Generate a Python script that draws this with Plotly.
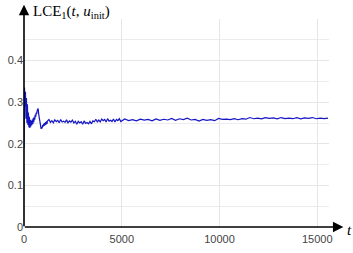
import plotly.graph_objects as go

# --- data ---
t_early = [0, 25, 50, 75, 100, 125, 150, 175, 200, 225, 250, 275, 300, 325, 350, 375,
           400, 425, 450, 475, 500, 525, 550, 575, 600, 625, 650, 675, 700, 725, 750,
           775, 800, 825, 850, 875, 900, 925, 950, 975, 1000, 1025, 1050, 1075, 1100,
           1125, 1150, 1175, 1200]
lce_early = [0.19, 0.335, 0.29, 0.325, 0.26, 0.31, 0.25, 0.295, 0.245, 0.275, 0.24, 0.265,
             0.238, 0.258, 0.242, 0.255, 0.245, 0.258, 0.248, 0.262, 0.252, 0.265, 0.258,
             0.27, 0.265, 0.275, 0.272, 0.28, 0.283, 0.285, 0.272, 0.262, 0.252, 0.245,
             0.238, 0.236, 0.24, 0.237, 0.245, 0.241, 0.248, 0.243, 0.25, 0.245, 0.252,
             0.246, 0.254, 0.248, 0.255]

t_mid = [1275, 1350, 1425, 1500, 1575, 1650, 1725, 1800, 1875, 1950, 2025, 2100, 2175,
         2250, 2325, 2400, 2475, 2550, 2625, 2700, 2775, 2850, 2925, 3000, 3075, 3150,
         3225, 3300, 3375, 3450, 3525, 3600, 3675, 3750, 3825, 3900, 3975, 4050, 4125,
         4200, 4275, 4350, 4425, 4500, 4575, 4650, 4725, 4800, 4875, 4950]
lce_mid = [0.2585, 0.2515, 0.2555, 0.2505, 0.2575, 0.2535, 0.2565, 0.2505, 0.2585, 0.2525,
           0.2545, 0.2515, 0.2575, 0.2505, 0.255, 0.252, 0.257, 0.250, 0.254, 0.247,
           0.254, 0.250, 0.253, 0.247, 0.255, 0.249, 0.251, 0.248, 0.254, 0.248,
           0.255, 0.253, 0.259, 0.2525, 0.257, 0.2525, 0.2595, 0.2555, 0.2585, 0.2525,
           0.2605, 0.2545, 0.2565, 0.2535, 0.2595, 0.2525, 0.2585, 0.2555, 0.2605, 0.2535]

t_late = [5150, 5350, 5550, 5750, 5950, 6150, 6350, 6550, 6750, 6950, 7150, 7350, 7550,
          7750, 7950, 8150, 8350, 8550, 8750, 8950, 9150, 9350, 9550, 9750, 9950, 10150,
          10350, 10550, 10750, 10950, 11150, 11350, 11550, 11750, 11950, 12150, 12350,
          12550, 12750, 12950, 13150, 13350, 13550, 13750, 13950, 14150, 14350, 14550,
          14750, 14950, 15150, 15350, 15550]
lce_late = [0.2599, 0.2557, 0.2581, 0.2551, 0.2593, 0.2569, 0.2587, 0.2551, 0.2599, 0.2563,
            0.2590, 0.2572, 0.2608, 0.2566, 0.2602, 0.2584, 0.2614, 0.2572, 0.2586, 0.2546,
            0.2588, 0.2564, 0.2582, 0.2556, 0.2611, 0.2587, 0.2595, 0.2583, 0.2607, 0.2579,
            0.2603, 0.2591, 0.2631, 0.2603, 0.2619, 0.2599, 0.2627, 0.2611, 0.2623, 0.2599,
            0.2631, 0.2607, 0.2615, 0.2603, 0.2627, 0.2599, 0.2623, 0.2611, 0.2631, 0.2603,
            0.2619, 0.2607, 0.2615]

x_ticks = [0, 5000, 10000, 15000]
y_ticks = [0, 0.1, 0.2, 0.3, 0.4]
y_tick_text = ["0", "0.1", "0.2", "0.3", "0.4"]
y_minor = [0.05, 0.15, 0.25, 0.35, 0.45]
x_range = [0, 15600]
y_range = [0, 0.5]

t_all = t_early + t_mid + t_late
lce_all = lce_early + lce_mid + lce_late

fig = go.Figure()
fig.add_trace(go.Scatter(x=t_all, y=lce_all, mode="lines",
                         line=dict(color="#1616c4", width=1.2), showlegend=False,
                         hoverinfo="skip"))

tickfont = dict(family="Liberation Sans, Arial, sans-serif", size=11, color="#444")
fig.update_layout(
    width=353, height=253,
    margin=dict(l=24, r=24, t=19, b=26),
    paper_bgcolor="white", plot_bgcolor="white",
    xaxis=dict(range=x_range, tickvals=x_ticks, ticktext=[str(v) for v in x_ticks],
               showgrid=True, gridcolor="#e6e6e6", gridwidth=1, zeroline=False,
               showline=False, ticks="", tickfont=tickfont, automargin=False,
               ticklabelstandoff=4),
    yaxis=dict(range=y_range, tickvals=y_ticks, ticktext=y_tick_text,
               showgrid=True, gridcolor="#e6e6e6", gridwidth=1, zeroline=False,
               showline=False, ticks="", tickfont=tickfont, automargin=False,
               minor=dict(tickvals=y_minor, showgrid=True, gridcolor="#ececec", gridwidth=1)),
)

# axis arrows
fig.add_annotation(x=1.047, y=0, xref="paper", yref="paper", ax=-320, ay=0,
                   text="", showarrow=True, arrowhead=2, arrowsize=1.3, arrowwidth=1.6,
                   arrowcolor="black")
fig.add_annotation(x=0, y=1.068, xref="paper", yref="paper", ax=0, ay=223,
                   text="", showarrow=True, arrowhead=2, arrowsize=1.3, arrowwidth=1.6,
                   arrowcolor="black")

serif = dict(family="Liberation Serif, DejaVu Serif, serif", size=15, color="black")
fig.add_annotation(x=0.024, y=1.035, xref="paper", yref="paper", xanchor="left",
                   yanchor="middle", showarrow=False, font=serif,
                   text="LCE<sub>1</sub>(<i>t</i>, <i>u</i><sub>init</sub>)")
fig.add_annotation(x=1.052, y=-0.015, xref="paper", yref="paper", xanchor="left",
                   yanchor="middle", showarrow=False, font=serif, text="<i>t</i>")

fig.write_html("out.html", config={"displayModeBar": False},
               post_script="document.body.style.margin='0';document.body.style.overflow='hidden';")
